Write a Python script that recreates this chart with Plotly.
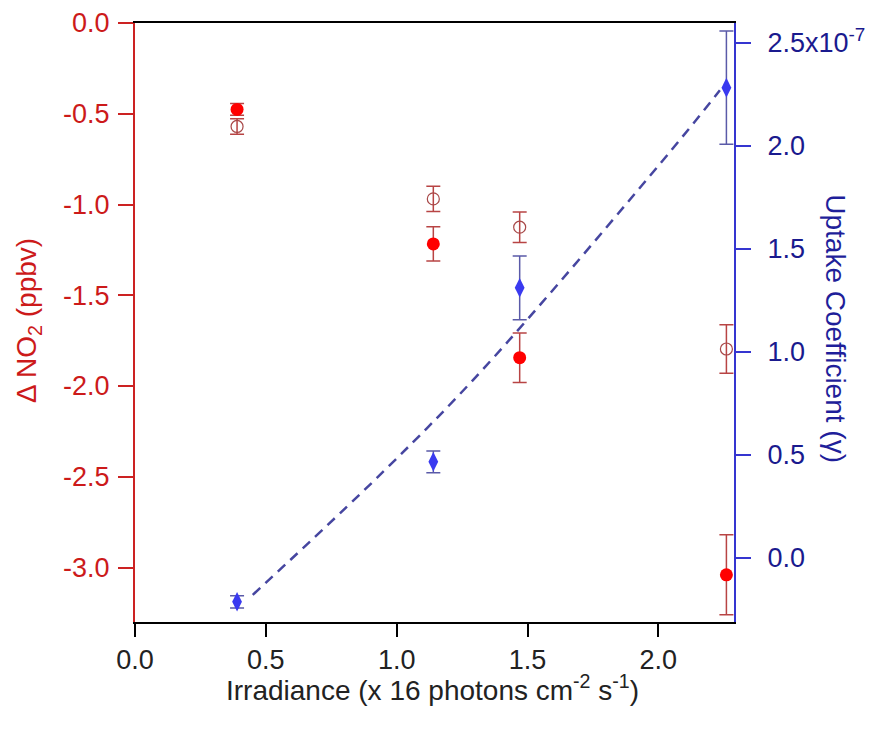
import plotly.graph_objects as go

# ---- data ----
irradiance = [0.39, 1.14, 1.47, 2.26]

dno2_filled = [-0.476, -1.217, -1.844, -3.04]
dno2_filled_err = [0.032, 0.094, 0.136, 0.22]

dno2_open = [-0.570, -0.969, -1.125, -1.796]
dno2_open_err = [0.043, 0.069, 0.084, 0.133]

uptake = [-0.214e-7, 0.466e-7, 1.311e-7, 2.283e-7]
uptake_err = [0.03e-7, 0.053e-7, 0.155e-7, 0.275e-7]

fit_x = [0.45, 0.955, 1.338, 2.039, 2.235]
fit_y = [-0.18e-7, 0.426e-7, 0.927e-7, 1.963e-7, 2.27e-7]

x_ticks = [0.0, 0.5, 1.0, 1.5, 2.0]
x_ticktext = ["0.0", "0.5", "1.0", "1.5", "2.0"]
left_ticks = [0.0, -0.5, -1.0, -1.5, -2.0, -2.5, -3.0]
left_ticktext = ["0.0", "-0.5", "-1.0", "-1.5", "-2.0", "-2.5", "-3.0"]
right_ticks = [0.0, 0.5e-7, 1.0e-7, 1.5e-7, 2.0e-7, 2.5e-7]
right_ticktext = ["0.0", "0.5", "1.0", "1.5", "2.0", "2.5x10<sup>-7</sup>"]

FONT = "Arial, 'Liberation Sans', sans-serif"
RED_AX = "#cc2222"
RED_TXT = "#cc1a1a"
BLUE_AX = "#3535d0"
BLUE_TXT = "#1a1a8e"
TICK_SIZE = 27
TITLE_SIZE = 28

fig = go.Figure()

fig.add_trace(go.Scatter(
    x=fit_x, y=fit_y, yaxis="y2", mode="lines",
    line=dict(color="#4646a0", width=2.5, dash="10px,7px", shape="spline"),
    showlegend=False, hoverinfo="skip"))

fig.add_trace(go.Scatter(
    x=irradiance, y=uptake, yaxis="y2", mode="markers",
    marker=dict(symbol="diamond-tall", size=14, color="#3a3af0"),
    error_y=dict(type="data", array=uptake_err, visible=True,
                 color="#5a5aa8", thickness=1.5, width=7),
    showlegend=False))

fig.add_trace(go.Scatter(
    x=irradiance, y=dno2_open, mode="markers",
    marker=dict(symbol="circle-open", size=12, color="#a84848",
                line=dict(width=1.2, color="#a84848")),
    error_y=dict(type="data", array=dno2_open_err, visible=True,
                 color="#b84444", thickness=1.5, width=7),
    showlegend=False))

fig.add_trace(go.Scatter(
    x=irradiance, y=dno2_filled, mode="markers",
    marker=dict(symbol="circle", size=13, color="#ff0000"),
    error_y=dict(type="data", array=dno2_filled_err, visible=True,
                 color="#b84444", thickness=1.5, width=7),
    showlegend=False))

# page body has an 8px margin, so the figure is 8px smaller each way
fig.update_layout(
    width=869, height=724,
    margin=dict(l=127, r=143, t=15, b=110, autoexpand=False),
    paper_bgcolor="white", plot_bgcolor="white",
    font=dict(family=FONT, size=TICK_SIZE),
    xaxis=dict(
        range=[0, 2.289], tickvals=x_ticks, ticktext=x_ticktext,
        showgrid=False, zeroline=False, automargin=False,
        showline=True, linecolor="black", linewidth=2, mirror=True,
        ticks="outside", ticklen=13, tickwidth=1.5, tickcolor="black",
        tickfont=dict(color="#222222", size=TICK_SIZE), ticklabelstandoff=0),
    yaxis=dict(
        range=[-3.30, 0.0], tickvals=left_ticks, ticktext=left_ticktext,
        showgrid=False, zeroline=False, automargin=False,
        showline=True, linecolor=RED_AX, linewidth=2,
        ticks="outside", ticklen=15, tickwidth=2, tickcolor=RED_AX,
        tickfont=dict(color=RED_TXT, size=TICK_SIZE), ticklabelstandoff=3),
    yaxis2=dict(
        range=[-0.312e-7, 2.597e-7], tickvals=right_ticks, ticktext=right_ticktext,
        overlaying="y", side="right",
        showgrid=False, zeroline=False, automargin=False,
        showline=True, linecolor=BLUE_AX, linewidth=2,
        ticks="outside", ticklen=15, tickwidth=2, tickcolor=BLUE_AX,
        tickfont=dict(color=BLUE_TXT, size=TICK_SIZE), ticklabelstandoff=11),
    annotations=[
        dict(text="Irradiance (x 16 photons cm<sup>-2</sup> s<sup>-1</sup>)",
             xref="paper", yref="paper", x=0.497, y=-0.11,
             xanchor="center", yanchor="middle", showarrow=False,
             font=dict(size=TITLE_SIZE, color="#222222", family=FONT)),
        dict(text="\u0394 NO<sub>2</sub> (ppbv)",
             xref="paper", yref="paper", x=-0.179, y=0.504,
             xanchor="center", yanchor="middle", showarrow=False, textangle=-90,
             font=dict(size=TITLE_SIZE, color=RED_TXT, family=FONT)),
        dict(text="Uptake Coefficient (\u03b3)",
             xref="paper", yref="paper", x=1.169, y=0.49,
             xanchor="center", yanchor="middle", showarrow=False, textangle=90,
             font=dict(size=TITLE_SIZE, color="#1f1f9a", family=FONT)),
    ],
)

fig.write_html("out.html")
